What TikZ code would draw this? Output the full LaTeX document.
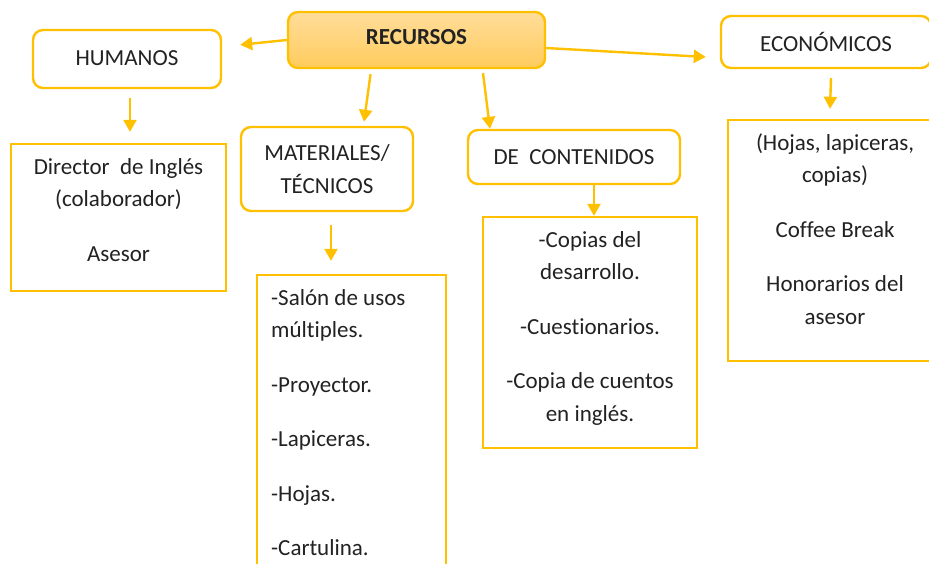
\documentclass[tikz,border=0pt]{standalone}
\usepackage{fontspec}
\setmainfont{Carlito}[Ligatures=NoCommon]
\usetikzlibrary{arrows.meta,calc}
\definecolor{gold}{HTML}{FFC000}
\definecolor{recTop}{HTML}{FFDD9A}
\definecolor{recBot}{HTML}{FFCB5C}
\definecolor{ink}{HTML}{222222}
\begin{document}
\begin{tikzpicture}[x=1pt,y=-1pt,
  every node/.style={font=\fontsize{23}{32.5}\selectfont, text=ink},
  head/.style={draw=gold, line width=2.4pt, rounded corners=10pt, fill=white, align=center, inner sep=0pt},
  plainbox/.style={draw=gold, line width=2.4pt, fill=white, inner sep=0pt},
  body/.style={inner sep=0pt, anchor=north},
  conn/.style={draw=gold, line width=2.4pt, -{Triangle[length=12pt,width=13pt]}}
]
\useasboundingbox (0,0) rectangle (929,563);
\clip (0,0) rectangle (929,563);
\fill[white] (0,0) rectangle (929,563);

% header boxes
\node[head, minimum width=257pt, minimum height=56pt, draw=gold, shading=axis, top color=recTop, bottom color=recBot, font=\fontsize{23}{32.5}\selectfont\bfseries] (rec) at (416.5,40) {\raisebox{6pt}{RECURSOS}};
\node[head, minimum width=188pt, minimum height=58pt] (hum) at (127,59) {\raisebox{2pt}{HUMANOS}};
\node[head, minimum width=172pt, minimum height=84pt] (mat) at (327,169) {MATERIALES/\\TÉCNICOS};
\node[head, minimum width=212pt, minimum height=54pt] (con) at (574,157) {DE\ \ CONTENIDOS};
\node[head, minimum width=210pt, minimum height=52pt] (eco) at (826,42) {ECONÓMICOS};

% content boxes
\node[plainbox, minimum width=215pt, minimum height=147pt] (dirbox) at (118.5,217.5) {};
\node[plainbox, minimum width=189pt, minimum height=330pt] (matbox) at (351.5,440) {};
\node[plainbox, minimum width=214pt, minimum height=231pt] (conbox) at (590,332.5) {};
\node[plainbox, minimum width=212pt, minimum height=241pt] (ecobox) at (834,240.5) {};

% content texts
\node[body, align=center] (dir) at (118.5,158) {Director\ \ de Inglés\\(colaborador)\\[22pt]Asesor};
\node[body, align=left, anchor=north west] (matt) at (271,289) {-Salón de usos\\múltiples.\\[22pt]-Proyector.\\[22pt]-Lapiceras.\\[22pt]-Hojas.\\[22pt]-Cartulina.};
\node[body, align=center] (cont) at (590,231) {-Copias del\\desarrollo.\\[22pt]-Cuestionarios.\\[22pt]-Copia de cuentos\\en inglés.};
\node[body, align=center] (ecot) at (835,133) {(Hojas, lapiceras,\\copias)\\[22pt]Coffee Break\\[22pt]Honorarios del\\asesor};

% connectors
\draw[conn] (rec.west) -- ([shift={(18,16)}]hum.north east);
\draw[conn] ([shift={(-46,5)}]rec.south) -- ([shift={(37,-4)}]mat.north);
\draw[conn] ([shift={(66.5,4)}]rec.south) -- ([shift={(-84,0)}]con.north);
\draw[conn] ([shift={(0,8)}]rec.east) -- ([shift={(-14,15)}]eco.west);
\draw[conn] ([shift={(3,9)}]hum.south) -- ([shift={(11.5,-11)}]dirbox.north);
\draw[conn] ([shift={(4,13)}]mat.south) -- ([shift={(-20.5,-13)}]matbox.north);
\draw[conn] ([shift={(20,0)}]con.south) -- ([shift={(4,0)}]conbox.north);
\draw[conn] ([shift={(5,9)}]eco.south) -- ([shift={(-4,-10)}]ecobox.north);
\end{tikzpicture}
\end{document}
